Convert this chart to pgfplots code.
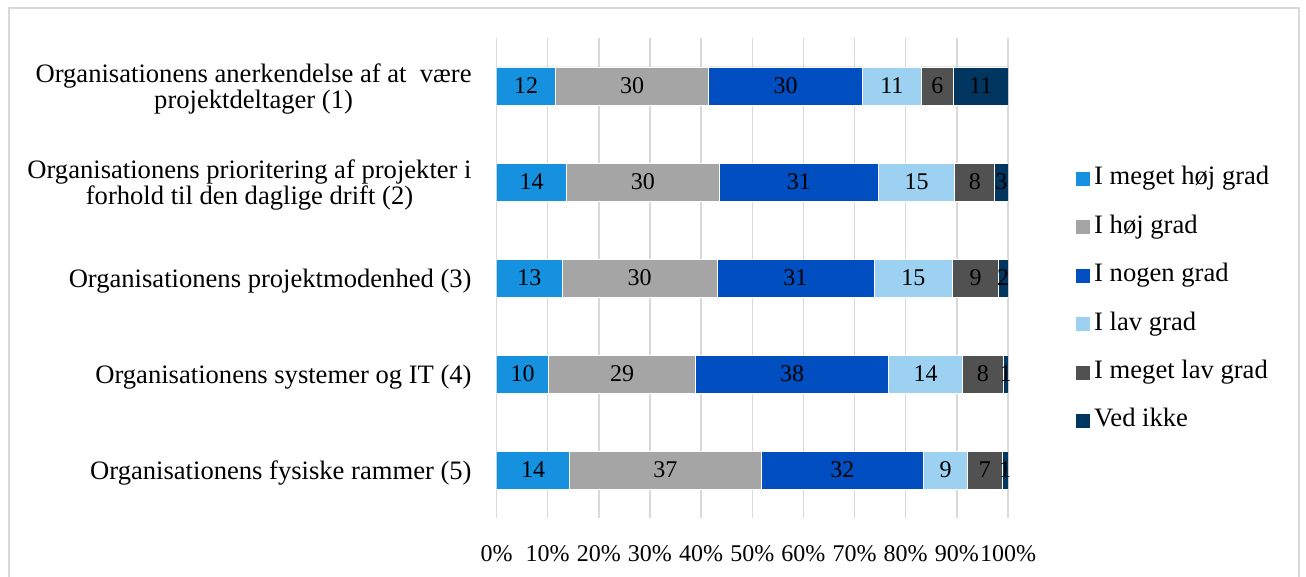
\documentclass[border=0pt]{standalone}
\usepackage{pgfplots}
\pgfplotsset{compat=1.18}
\usepackage{pgfplotstable}
\usepackage{fontspec}
\setmainfont{Liberation Serif}

\definecolor{c1}{HTML}{1591E0}
\definecolor{c2}{HTML}{A5A5A5}
\definecolor{c3}{HTML}{004EBF}
\definecolor{c4}{HTML}{9DD1F1}
\definecolor{c5}{HTML}{515151}
\definecolor{c6}{HTML}{003660}
\definecolor{gridgray}{HTML}{D9D9D9}

% Share of answers (%) per item, one column per answer category
\pgfplotstableread{
row vmh hg ng lg vml vi
0 11.6 29.8 30.2 11.4 6.4 10.6
1 13.7 29.8 31.2 14.9 7.8 2.6
2 12.9 30.2 30.7 15.4 8.9 1.9
3 10.2 28.7 37.8 14.4 8.0 0.9
4 14.3 37.4 31.8 8.6 6.8 1.1
}\svar

\pgfplotsset{
  sq legend/.style={legend image code/.code={\fill[##1] (0pt,-3.75pt) rectangle (7.5pt,3.75pt);}},
  seg/.style={fill=#1, draw=white, line width=0.4pt, sq legend},
}

\begin{document}
\begin{tikzpicture}
\useasboundingbox (0,0) rectangle (653pt,288.5pt);
\draw[gridgray, line width=0.75pt] (4.5pt,0) -- (4.5pt,284.5pt) -- (649.5pt,284.5pt) -- (649.5pt,0);
\begin{axis}[
  at={(248.25pt,29.5pt)}, anchor=south west,
  scale only axis, width=255.75pt, height=240pt,
  xbar stacked, bar width=19pt,
  xmin=0, xmax=100, ymin=-0.5, ymax=4.5, y dir=reverse,
  axis line style={draw=none}, major tick length=0pt,
  xmajorgrids, grid style={gridgray, line width=0.75pt},
  xtick={0,10,20,30,40,50,60,70,80,90,100},
  xticklabels={0\%,10\%,20\%,30\%,40\%,50\%,60\%,70\%,80\%,90\%,100\%},
  xticklabel style={font=\fontsize{12pt}{14pt}\selectfont, inner sep=0pt, anchor=base, yshift=-21.5pt},
  ytick={0,1,2,3,4},
  yticklabels={
    {Organisationens anerkendelse af at~~være\\projektdeltager (1)},
    {Organisationens prioritering af projekter i\\forhold til den daglige drift (2)},
    {Organisationens projektmodenhed (3)},
    {Organisationens systemer og IT (4)},
    {Organisationens fysiske rammer (5)}},
  yticklabel style={font=\fontsize{13.3pt}{13pt}\selectfont, align=center, inner sep=0pt, xshift=-12.25pt, yshift=-1.5pt},
  point meta=explicit,
  nodes near coords={\pgfmathprintnumber[assume math mode=true, fixed, precision=0]{\pgfplotspointmeta}},
  every node near coord/.append style={anchor=center, font=\fontsize{12pt}{14pt}\selectfont, text=black},
  legend style={draw=none, fill=none, at={(1.131,0.4542)}, anchor=west,
    font=\fontsize{13.3pt}{15pt}\selectfont, inner sep=0pt,
    nodes={inner sep=1.5pt, text height=9pt, text depth=3pt}, row sep=9.2pt},
  legend cell align=left,
]
\addplot[seg=c1] table[x=vmh, y=row, meta=vmh] {\svar};
\addplot[seg=c2] table[x=hg, y=row, meta=hg] {\svar};
\addplot[seg=c3] table[x=ng, y=row, meta=ng] {\svar};
\addplot[seg=c4] table[x=lg, y=row, meta=lg] {\svar};
\addplot[seg=c5] table[x=vml, y=row, meta=vml] {\svar};
\addplot[seg=c6] table[x=vi, y=row, meta=vi] {\svar};
\legend{I meget høj grad, I høj grad, I nogen grad, I lav grad, I meget lav grad, Ved ikke}
\end{axis}
\end{tikzpicture}
\end{document}
